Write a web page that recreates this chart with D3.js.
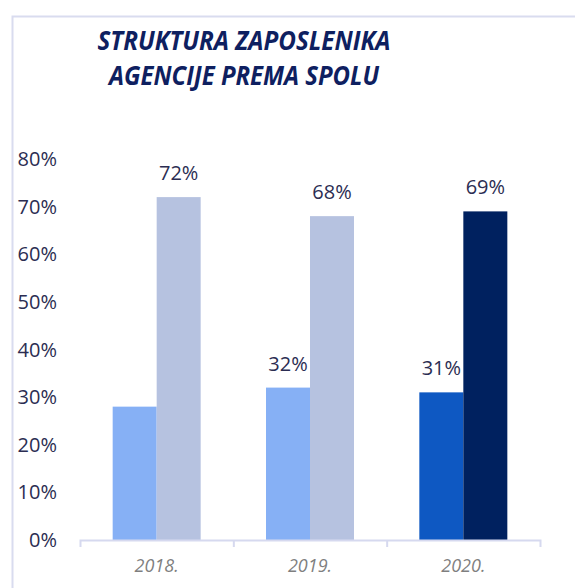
<!doctype html>
<html>
<head>
<meta charset="utf-8">
<script src="https://d3js.org/d3.v7.min.js"></script>
<style>
  body { margin: 0; background: #fff; }
  svg { display: block; font-family: "Open Sans", sans-serif; }
</style>
</head>
<body>
<script>
// data
var years = ["2018.", "2019.", "2020."];
var zene = [28, 32, 31];
var muskarci = [72, 68, 69];
var showZene = [false, true, true];
var yTicks = [0, 10, 20, 30, 40, 50, 60, 70, 80];
var titleLines = ["STRUKTURA ZAPOSLENIKA", "AGENCIJE PREMA SPOLU"];

var width = 575, height = 588;
var svg = d3.select("body").append("svg").attr("width", width).attr("height", height);

// outer frame
svg.append("path")
  .attr("d", "M12.5," + height + " V16.5 H" + width)
  .attr("fill", "none").attr("stroke", "#d9dcef").attr("stroke-width", 2);

var x = d3.scaleBand().domain(years).range([80, 540]).paddingInner(0).paddingOuter(0);
var y = d3.scaleLinear().domain([0, 80]).range([540, 159]);

var barW = 44;
var colF = ["#86b0f5", "#86b0f5", "#0e58c2"];
var colM = ["#b6c2e0", "#b6c2e0", "#00215f"];

// title
svg.append("g").selectAll("text").data(titleLines).enter().append("text")
  .attr("x", 244).attr("y", function(d, i) { return 50 + i * 35; })
  .attr("text-anchor", "middle")
  .attr("font-weight", "bold").attr("font-style", "italic")
  .attr("font-size", 26).attr("fill", "#0e2060")
  .attr("lengthAdjust", "spacingAndGlyphs")
  .attr("textLength", function(d, i) { return i == 0 ? 293 : 270; })
  .text(function(d) { return d; });

// y labels
svg.append("g").selectAll("text").data(yTicks).enter().append("text")
  .attr("x", 57).attr("y", function(d) { return y(d) + 7; })
  .attr("text-anchor", "end").attr("font-size", 20).attr("fill", "#2b2d52")
  .text(function(d) { return d + "%"; });

// bars
var g = svg.append("g");
g.selectAll(".f").data(years).enter().append("rect")
  .attr("x", function(d) { return x(d) + x.bandwidth() / 2 - barW; })
  .attr("y", function(d, i) { return y(zene[i]); })
  .attr("width", barW)
  .attr("height", function(d, i) { return y(0) - y(zene[i]); })
  .attr("fill", function(d, i) { return colF[i]; });
g.selectAll(".m").data(years).enter().append("rect")
  .attr("x", function(d) { return x(d) + x.bandwidth() / 2; })
  .attr("y", function(d, i) { return y(muskarci[i]); })
  .attr("width", barW)
  .attr("height", function(d, i) { return y(0) - y(muskarci[i]); })
  .attr("fill", function(d, i) { return colM[i]; });

// value labels
g.selectAll(".lf").data(years).enter().filter(function(d, i) { return showZene[i]; })
  .append("text")
  .attr("x", function(d) { return x(d) + x.bandwidth() / 2 - barW / 2; })
  .attr("y", function(d) { var i = years.indexOf(d); return y(zene[i]) - 17; })
  .attr("text-anchor", "middle").attr("font-size", 20).attr("fill", "#2b2d52")
  .text(function(d) { return zene[years.indexOf(d)] + "%"; });
g.selectAll(".lm").data(years).enter().append("text")
  .attr("x", function(d) { return x(d) + x.bandwidth() / 2 + barW / 2; })
  .attr("y", function(d, i) { return y(muskarci[i]) - 17; })
  .attr("text-anchor", "middle").attr("font-size", 20).attr("fill", "#2b2d52")
  .text(function(d, i) { return muskarci[i] + "%"; });

// x axis
var xaxis = svg.append("g").attr("transform", "translate(0," + y(0) + ")")
  .call(d3.axisBottom(x).tickSize(0).tickPadding(19));
xaxis.select(".domain").remove();
xaxis.append("path")
  .attr("d", "M80.5,7 V0.5 H540.5 V7")
  .attr("fill", "none").attr("stroke", "#d6d9ef").attr("stroke-width", 2);
xaxis.selectAll(".sep").data(years.slice(1)).enter().append("line")
  .attr("x1", function(d) { return x(d) + 0.5; }).attr("x2", function(d) { return x(d) + 0.5; })
  .attr("y1", 0).attr("y2", 7)
  .attr("stroke", "#d6d9ef").attr("stroke-width", 2);
xaxis.selectAll(".tick text")
  .attr("font-family", "'Open Sans', sans-serif")
  .attr("font-size", 18).attr("font-style", "italic").attr("fill", "#7f7f7f");
</script>
</body>
</html>
